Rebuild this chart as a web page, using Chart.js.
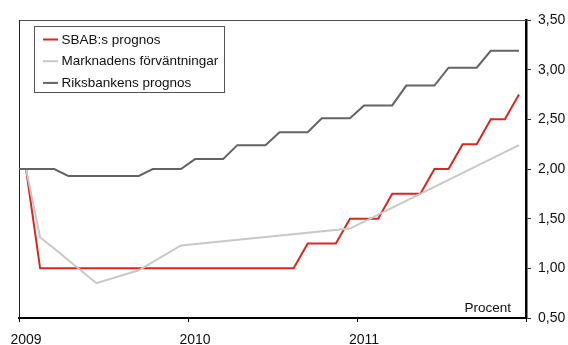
<!DOCTYPE html>
<html>
<head>
<meta charset="utf-8">
<script src="https://cdn.jsdelivr.net/npm/chart.js@4/dist/chart.umd.min.js"></script>
<style>
  html, body { margin: 0; padding: 0; background: #fff; }
  #wrap { width: 568px; height: 345px; }
</style>
</head>
<body>
<div id="wrap"><canvas id="c" width="568" height="345"></canvas></div>
<script>
// Repo rate paths, one value per month from Jan 2009 to Dec 2011 (percent)
const yearLabels = ['2009', '2010', '2011'];
const monthsPerYear = 12;
const yTicks = [0.5, 1.0, 1.5, 2.0, 2.5, 3.0, 3.5];
const startRate = 2.00; // rate at the turn of the year 2008/2009

const sbabForecast = [
  2.00, 1.00, 1.00, 1.00, 1.00, 1.00, 1.00, 1.00, 1.00, 1.00, 1.00, 1.00,
  1.00, 1.00, 1.00, 1.00, 1.00, 1.00, 1.00, 1.00, 1.25, 1.25, 1.25, 1.50,
  1.50, 1.50, 1.75, 1.75, 1.75, 2.00, 2.00, 2.25, 2.25, 2.50, 2.50, 2.75
];

const marketExpectations = [
  2.00, 1.31, 1.20, null, null, 0.85, null, null, 0.98, null, null, 1.23,
  null, null, null, null, null, null, null, null, null, null, null, 1.40,
  null, null, null, null, null, null, null, null, null, null, null, 2.24
];

const riksbankForecast = [
  2.00, 2.00, 2.00, 1.93, 1.93, 1.93, 1.93, 1.93, 1.93, 2.00, 2.00, 2.00,
  2.10, 2.10, 2.10, 2.24, 2.24, 2.24, 2.37, 2.37, 2.37, 2.51, 2.51, 2.51,
  2.64, 2.64, 2.64, 2.84, 2.84, 2.84, 3.02, 3.02, 3.02, 3.19, 3.19, 3.19
];

const seriesNames = ['SBAB:s prognos', 'Marknadens förväntningar', 'Riksbankens prognos'];
const seriesColors = ['#d8281e', '#c8c8c8', '#646464'];
const unitLabel = 'Procent';

const FONT = '"Liberation Sans", Arial, Helvetica, sans-serif';

// monthly values are placed at mid-month on a month-index axis
function toPoints(values) {
  return [{ x: 0, y: startRate }].concat(values.map((v, i) => ({ x: i + 0.5, y: v })));
}

const fmtRate = v => v.toFixed(2).replace('.', ',');

// thin frame along the top and left edges of the plot area
const framePlugin = {
  id: 'frame',
  beforeDatasetsDraw(chart) {
    const { ctx, chartArea: a } = chart;
    ctx.save();
    ctx.lineWidth = 1;
    ctx.strokeStyle = '#555';
    ctx.beginPath();
    ctx.moveTo(a.left, a.top + 0.5);
    ctx.lineTo(a.right, a.top + 0.5);
    ctx.stroke();
    ctx.strokeStyle = '#222';
    ctx.beginPath();
    ctx.moveTo(a.left + 0.5, a.top);
    ctx.lineTo(a.left + 0.5, a.bottom);
    ctx.stroke();
    ctx.restore();
  }
};

// boxed legend inside the plot area plus the unit caption
const legendPlugin = {
  id: 'boxLegend',
  afterDatasetsDraw(chart) {
    const { ctx, chartArea: a } = chart;
    const bx = a.left + 15.5, by = a.top + 6.5, bw = 190, bh = 66;
    ctx.save();
    ctx.fillStyle = '#fff';
    ctx.fillRect(bx, by, bw, bh);
    ctx.strokeStyle = '#555';
    ctx.lineWidth = 1;
    ctx.strokeRect(bx, by, bw, bh);
    ctx.font = '13.5px ' + FONT;
    ctx.textBaseline = 'middle';
    ctx.textAlign = 'left';
    chart.data.datasets.forEach((ds, i) => {
      const y = by + 13 + i * 21.7;
      ctx.strokeStyle = ds.borderColor;
      ctx.lineWidth = 2;
      ctx.beginPath();
      ctx.moveTo(bx + 8.5, y);
      ctx.lineTo(bx + 23.5, y);
      ctx.stroke();
      ctx.fillStyle = '#111';
      ctx.fillText(ds.label, bx + 27, y + 0.5);
    });
    ctx.textAlign = 'right';
    ctx.textBaseline = 'alphabetic';
    ctx.fillText(unitLabel, a.right - 15, a.bottom - 6);
    ctx.restore();
  }
};

const datasets = [sbabForecast, marketExpectations, riksbankForecast].map((vals, i) => ({
  label: seriesNames[i],
  data: toPoints(vals),
  borderColor: seriesColors[i],
  backgroundColor: seriesColors[i],
  borderWidth: 2,
  pointRadius: 0,
  tension: 0,
  spanGaps: true,
  order: 3 - i
}));

new Chart(document.getElementById('c'), {
  type: 'line',
  data: { datasets },
  options: {
    responsive: false,
    animation: false,
    devicePixelRatio: 1,
    layout: { padding: { left: 19, top: 20, right: 0, bottom: 0 } },
    plugins: { legend: { display: false }, tooltip: { enabled: false } },
    scales: {
      x: {
        type: 'linear',
        min: 0,
        max: yearLabels.length * monthsPerYear,
        afterBuildTicks: s => {
          s.ticks = [0, 1, 2, 3].map(k => ({ value: k * monthsPerYear }));
        },
        afterFit: s => { s.height = 27; s.paddingLeft = 0; s.paddingRight = 0; },
        border: { display: true, color: '#000', width: 2 },
        grid: { display: true, drawOnChartArea: false, drawTicks: true, tickLength: 4, color: '#000' },
        ticks: {
          autoSkip: false,
          maxRotation: 0,
          labelOffset: 7,
          padding: 10,
          color: '#111',
          font: { family: FONT, size: 14 },
          callback: v => yearLabels[v / monthsPerYear] ?? ''
        }
      },
      y: {
        position: 'right',
        min: yTicks[0],
        max: yTicks[yTicks.length - 1],
        afterBuildTicks: s => { s.ticks = yTicks.map(v => ({ value: v })); },
        afterFit: s => { s.width = 42; s.paddingTop = 0; s.paddingBottom = 0; },
        border: { display: true, color: '#000', width: 2.5 },
        grid: { display: true, drawOnChartArea: false, drawTicks: true, tickLength: 5, color: '#333' },
        ticks: {
          padding: 7,
          color: '#111',
          font: { family: FONT, size: 14 },
          callback: v => fmtRate(v)
        }
      }
    }
  },
  plugins: [framePlugin, legendPlugin]
});
</script>
</body>
</html>
